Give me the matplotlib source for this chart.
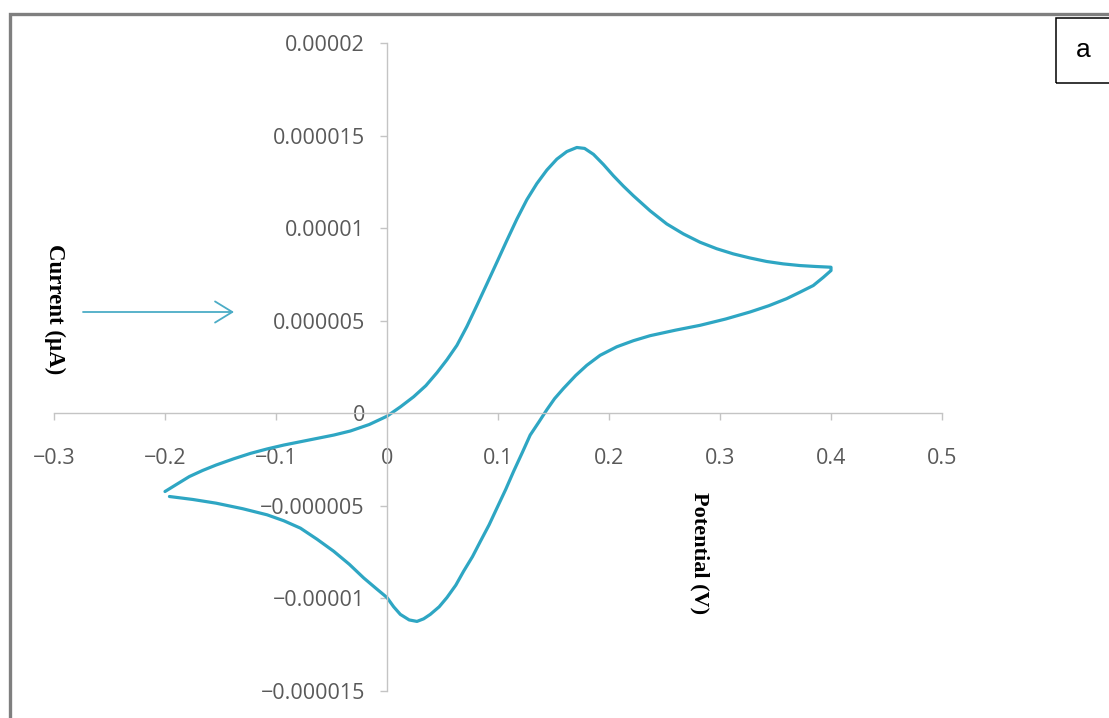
import matplotlib
matplotlib.use("Agg")
import matplotlib.pyplot as plt
from matplotlib.ticker import FixedLocator, FixedFormatter
from matplotlib.lines import Line2D
from matplotlib.patches import Rectangle, FancyArrowPatch

# ---- data (potential in V, current in µA) ----
potential_fwd = [-0.200, -0.190, -0.178, -0.166, -0.154, -0.138, -0.123, -0.108,
                 -0.093, -0.078, -0.063, -0.048, -0.033, -0.016, 0.000, 0.012,
                 0.024, 0.035, 0.045, 0.054, 0.063, 0.072, 0.081, 0.090, 0.099,
                 0.108, 0.117, 0.126, 0.135, 0.144, 0.153, 0.162, 0.171, 0.178,
                 0.186, 0.195, 0.204, 0.213, 0.222, 0.237, 0.252, 0.267, 0.282,
                 0.297, 0.312, 0.327, 0.342, 0.357, 0.372, 0.386, 0.400]
current_fwd = [-4.22, -3.85, -3.41, -3.08, -2.79, -2.45, -2.16, -1.92,
               -1.71, -1.53, -1.35, -1.17, -0.95, -0.60, -0.15, 0.35,
               0.90, 1.50, 2.20, 2.90, 3.68, 4.70, 5.84, 7.00, 8.17,
               9.35, 10.50, 11.55, 12.42, 13.15, 13.74, 14.15, 14.37, 14.32,
               14.00, 13.45, 12.84, 12.28, 11.76, 10.95, 10.24, 9.70, 9.25,
               8.90, 8.62, 8.40, 8.21, 8.08, 7.99, 7.94, 7.90]
potential_rev = [0.400, 0.393, 0.384, 0.372, 0.360, 0.344, 0.327, 0.305, 0.282,
                 0.260, 0.237, 0.222, 0.207, 0.192, 0.180, 0.170, 0.159, 0.151,
                 0.144, 0.137, 0.129, 0.122, 0.114, 0.107, 0.099, 0.092, 0.084,
                 0.077, 0.069, 0.062, 0.054, 0.047, 0.039, 0.033, 0.027, 0.020,
                 0.012, 0.006, 0.000, -0.010, -0.021, -0.034, -0.048, -0.063,
                 -0.078, -0.093, -0.108, -0.130, -0.154, -0.175, -0.196]
current_rev = [7.72, 7.35, 6.91, 6.55, 6.20, 5.82, 5.48, 5.10, 4.76,
               4.50, 4.20, 3.93, 3.60, 3.14, 2.60, 2.05, 1.35, 0.80,
               0.20, -0.45, -1.17, -2.10, -3.14, -4.10, -5.12, -6.02, -6.93,
               -7.74, -8.53, -9.28, -9.95, -10.45, -10.86, -11.10, -11.24, -11.16,
               -10.86, -10.45, -9.95, -9.45, -8.89, -8.15, -7.45, -6.80,
               -6.20, -5.80, -5.48, -5.15, -4.85, -4.65, -4.49]

x_ticks = [-0.3, -0.2, -0.1, 0.0, 0.1, 0.2, 0.3, 0.4, 0.5]
x_tick_labels = ["\u22120.3", "\u22120.2", "\u22120.1", "0", "0.1", "0.2", "0.3", "0.4", "0.5"]
y_ticks = [-0.000015, -0.00001, -0.000005, 0.0, 0.000005, 0.00001, 0.000015, 0.00002]
y_tick_labels = ["\u22120.000015", "\u22120.00001", "\u22120.000005", "0",
                 "0.000005", "0.00001", "0.000015", "0.00002"]

x_label = "Potential (V)"
y_label = "Current (\u00b5A)"
panel_label = "a"

# ---- figure ----
W, H = 1109, 718
fig = plt.figure(figsize=(W / 100, H / 100), dpi=100)
fig.patch.set_facecolor("white")

ax = fig.add_axes([54 / W, 27 / H, 888 / W, 647.7 / H])
line_color = "#2ea6c3"
pot = potential_fwd + potential_rev
cur = [c * 1e-6 for c in current_fwd + current_rev]
ax.plot(pot, cur, color=line_color, lw=2.3, solid_joinstyle="round",
        solid_capstyle="round", clip_on=False)

ax.set_xlim(-0.3, 0.5)
ax.set_ylim(-0.000015, 0.00002)

for s in ["top", "right"]:
    ax.spines[s].set_visible(False)
ax.spines["left"].set_position(("data", 0))
ax.spines["bottom"].set_position(("data", 0))
axis_grey = "#c4c4c4"
for s in ["left", "bottom"]:
    ax.spines[s].set_color(axis_grey)
    ax.spines[s].set_linewidth(1.0)

ax.xaxis.set_major_locator(FixedLocator(x_ticks))
ax.xaxis.set_major_formatter(FixedFormatter(x_tick_labels))
ax.yaxis.set_major_locator(FixedLocator(y_ticks))
ax.yaxis.set_major_formatter(FixedFormatter(y_tick_labels))

tick_font = "Open Sans"
ax.tick_params(axis="x", direction="out", length=5, width=1, color=axis_grey,
               pad=20, labelsize=15.5, labelcolor="#595959")
ax.tick_params(axis="y", direction="out", length=5, width=1, color=axis_grey,
               pad=11, labelsize=15.5, labelcolor="#595959")
for lab in ax.get_xticklabels() + ax.get_yticklabels():
    lab.set_fontfamily(tick_font)

# axis titles (rotated, bold serif)
fig.text(55 / W, 1 - 309 / H, y_label, rotation=-90, ha="center", va="center",
         fontsize=16.5, fontweight="bold", family=["Liberation Serif", "DejaVu Serif"])
fig.text(700 / W, 1 - 553 / H, x_label, rotation=-90, ha="center", va="center",
         fontsize=16, fontweight="bold", family=["Liberation Serif", "DejaVu Serif"])

# arrow pointing to the axis
fig.add_artist(FancyArrowPatch(
    (83 / W, 1 - 312 / H), (234 / W, 1 - 312 / H), transform=fig.transFigure,
    arrowstyle="->,head_length=0.62,head_width=0.38", mutation_scale=20,
    color="#4bacc6", lw=1.3, shrinkA=0, shrinkB=0))

# outer grey frame (top and left visible)
fig.add_artist(Line2D([10 / W, 10 / W, 1.05], [-0.05, 1 - 14.3 / H, 1 - 14.3 / H],
                      transform=fig.transFigure, color="#7f7f7f", lw=2.4,
                      solid_joinstyle="miter"))

# panel label box
fig.add_artist(Rectangle((1056 / W, 1 - 82.7 / H), 0.2, 65 / H,
                         transform=fig.transFigure, fill=False,
                         edgecolor="black", lw=1.1))
fig.text(1083 / W, 1 - 50 / H, panel_label, ha="center", va="center",
         fontsize=19, family=["Liberation Sans", "DejaVu Sans"], color="black")

fig.savefig("out.png", dpi=100, facecolor="white")
